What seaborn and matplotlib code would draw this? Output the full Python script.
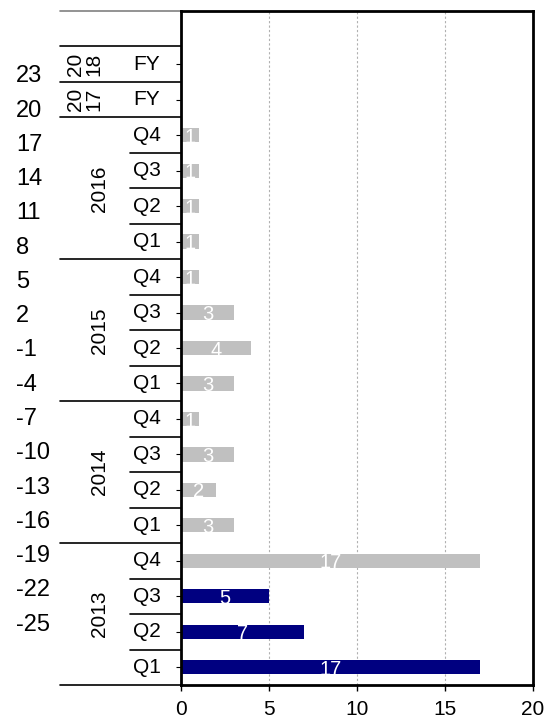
import numpy as np
import pandas as pd
import matplotlib
matplotlib.use("Agg")
import matplotlib.pyplot as plt
import matplotlib.transforms as mtransforms
import seaborn as sns

# ---- data -------------------------------------------------------------
years = ["2018", "2017",
         "2016", "2016", "2016", "2016",
         "2015", "2015", "2015", "2015",
         "2014", "2014", "2014", "2014",
         "2013", "2013", "2013", "2013"]
periods = ["FY", "FY",
           "Q4", "Q3", "Q2", "Q1",
           "Q4", "Q3", "Q2", "Q1",
           "Q4", "Q3", "Q2", "Q1",
           "Q4", "Q3", "Q2", "Q1"]
values = [np.nan, np.nan,
          1, 1, 1, 1,
          1, 3, 4, 3,
          1, 3, 2, 3,
          17, 5, 7, 17]
series = ["later"] * 15 + ["early"] * 3

# year group labels (top to bottom) and how many rows each spans
group_labels = ["20\n18", "20\n17", "2016", "2015", "2014", "2013"]
group_sizes = [1, 1, 4, 4, 4, 4]

# secondary scale printed down the far left
side_ticks = list(range(23, -26, -3))
side_range = (-30.5, 28.5)

x_ticks = [0, 5, 10, 15, 20]

# ---- frame ------------------------------------------------------------
sns.set_style("white")
plt.rcParams["font.family"] = ["Liberation Sans", "DejaVu Sans"]
plt.rcParams["text.color"] = "black"
plt.rcParams["xtick.color"] = "black"
plt.rcParams["ytick.color"] = "black"
plt.rcParams["xtick.labelcolor"] = "black"
plt.rcParams["ytick.labelcolor"] = "black"

df = pd.DataFrame({"year": years, "period": periods,
                   "value": values, "series": series})
df["key"] = df["year"] + " " + df["period"]
order = list(df["key"])

W, H = 546, 718
fig = plt.figure(figsize=(W / 100, H / 100), dpi=100)
L, R, T, B = 181, 533, 11, 685
ax = fig.add_axes([L / W, 1 - B / H, (R - L) / W, (B - T) / H])

palette = {"early": "#000080", "later": "#C0C0C0"}
sns.barplot(data=df.dropna(subset=["value"]), x="value", y="key",
            hue="series", palette=palette, order=order, orient="h",
            width=0.4, saturation=1, errorbar=None, legend=False,
            linewidth=0, ax=ax)

for cont in ax.containers:
    anns = ax.bar_label(cont, fmt="%g", label_type="center",
                        color="white", fontsize=14.5)
    for a in anns:
        a.xyann = (0, -1.5)

ax.set_xlim(0, 20)
ax.set_ylim(len(order) - 0.5, -1.5)
ax.set_xticks(x_ticks)
ax.set_xlabel("")
ax.set_ylabel("")
ax.tick_params(axis="x", bottom=True, direction="out", length=4,
               width=1, color="black", labelsize=15, pad=7)
ax.tick_params(axis="y", left=False, labelleft=False)
ax.xaxis.grid(True, linestyle=(0, (2, 2)), color="#b0b0b0", linewidth=0.8)
ax.yaxis.grid(False)
for s in ax.spines.values():
    s.set_visible(True)
    s.set_color("black")
    s.set_linewidth(2)

# ---- hierarchical category labels on the left -------------------------
trans = mtransforms.blended_transform_factory(ax.transAxes, ax.transData)


def axfrac(px):
    return (px - L) / (R - L)


x_group = axfrac(60)
x_period_line = axfrac(130)
x_period_text = axfrac(147)

# top rule over the empty first row
ax.plot([x_group, 0], [-1.5, -1.5], transform=trans, clip_on=False,
        color="#808080", linewidth=1.2)

row = 0
for lab, n in zip(group_labels, group_sizes):
    top = row - 0.5
    bottom = row + n - 0.5
    ax.plot([x_group, 0], [top, top], transform=trans, clip_on=False,
            color="black", linewidth=1.2)
    for k in range(1, n):
        yb = top + k
        ax.plot([x_period_line, 0], [yb, yb], transform=trans,
                clip_on=False, color="black", linewidth=1.2)
    xc = axfrac(85) if "\n" in lab else axfrac(100)
    ax.text(xc, (top + bottom) / 2, lab, transform=trans, rotation=90,
            ha="center", va="center", fontsize=15, linespacing=0.95,
            multialignment="center", color="black")
    row += n
ax.plot([x_group, 0], [row - 0.5, row - 0.5], transform=trans,
        clip_on=False, color="black", linewidth=1.2)

for i, p in enumerate(periods):
    ax.text(x_period_text, i, p, transform=trans, ha="center",
            va="center", fontsize=15, color="black")

# ---- secondary scale --------------------------------------------------
ax2 = ax.twinx()
ax2.set_ylim(*side_range)
ax2.set_yticks(side_ticks)
ax2.set_yticklabels([str(t) for t in side_ticks])
ax2.yaxis.tick_left()
ax2.tick_params(axis="y", length=0, labelsize=17, labelcolor="black",
                pad=(L - 16) * 72 / 100)
for t in ax2.get_yticklabels():
    t.set_ha("left")
ax2.tick_params(axis="y", right=False, labelright=False)
for s in ax2.spines.values():
    s.set_visible(False)
ax2.grid(False)

fig.savefig("out.png", dpi=100)
